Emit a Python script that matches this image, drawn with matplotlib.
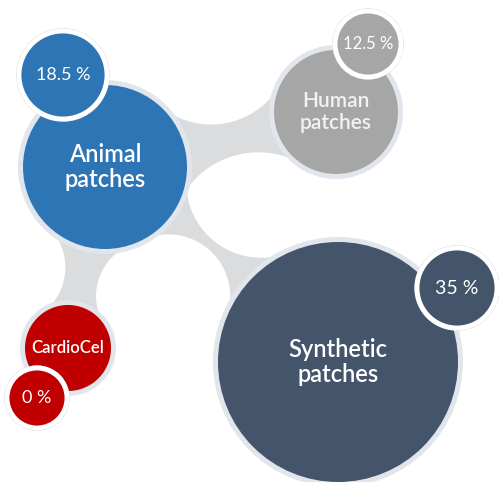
import numpy as np
import matplotlib.pyplot as plt
from matplotlib.patches import Circle, Polygon

plt.rcParams['font.family'] = ['Lato', 'DejaVu Sans']

# data
categories = ['Animal\npatches', 'Human\npatches', 'Synthetic\npatches', 'CardioCel']
shares = [18.5, 12.5, 35, 0]

# layout (pixel coordinates, y down)
centers = [(105, 167), (336, 112), (338, 362), (68, 348)]
radii = [82, 62, 120, 43]
badge_centers = [(63, 75), (368, 44), (457, 288), (37, 398)]
badge_radii = [44, 33, 40, 30]
colors = ['#2e75b6', '#a6a6a6', '#44546a', '#c00000']
label_sizes = [17, 15, 17, 12]
badge_sizes = [13, 12, 14, 13]
label_colors = ['white', '#f2f2f2', 'white', 'white']
# links: (from, to, carve radius side +1, carve radius side -1)
links = [(0, 1, 88, 80), (0, 2, 62, 75), (0, 3, 58, 55)]

LINK_COLOR = '#dadcde'
HALO_COLOR = '#e1e6ec'


def link_polygon(c1, r1, c2, r2, Ra, Rb):
    c1 = np.array(c1, float)
    c2 = np.array(c2, float)
    d = np.linalg.norm(c2 - c1)
    u = (c2 - c1) / d
    n = np.array([-u[1], u[0]])
    pts = []
    for side, R in [(1, Ra), (-1, Rb)]:
        a, b = r1 + R, r2 + R
        x = (a ** 2 - b ** 2 + d ** 2) / (2 * d)
        h = np.sqrt(max(a ** 2 - x ** 2, 0))
        cc = c1 + x * u + side * h * n
        t1 = c1 + r1 * (cc - c1) / a
        t2 = c2 + r2 * (cc - c2) / b
        a1 = np.arctan2(*(t1 - cc)[::-1])
        a2 = np.arctan2(*(t2 - cc)[::-1])
        da = (a2 - a1 + np.pi) % (2 * np.pi) - np.pi
        ang = a1 + np.linspace(0, da, 40)
        arc = np.column_stack([cc[0] + R * np.cos(ang), cc[1] + R * np.sin(ang)])
        if side == -1:
            arc = arc[::-1]
        pts.append(arc)
    return np.vstack([pts[0], pts[1]])


fig = plt.figure(figsize=(4.99, 4.82), dpi=100)
ax = fig.add_axes([0, 0, 1, 1])
ax.set_xlim(0, 499)
ax.set_ylim(482, 0)
ax.set_aspect('equal')
ax.axis('off')

for i, j, Ra, Rb in links:
    poly = link_polygon(centers[i], radii[i], centers[j], radii[j], Ra, Rb)
    ax.add_patch(Polygon(poly, closed=True, facecolor=LINK_COLOR, edgecolor='none', zorder=1))

for k in range(len(categories)):
    ax.add_patch(Circle(centers[k], radii[k] + 5, facecolor=HALO_COLOR, edgecolor='none', zorder=2))
    ax.add_patch(Circle(centers[k], radii[k], facecolor=colors[k], edgecolor='none', zorder=3))
    ax.text(centers[k][0], centers[k][1], categories[k], color=label_colors[k],
            fontsize=label_sizes[k], fontweight='semibold', ha='center', va='center',
            linespacing=1.15, zorder=6)

    ax.add_patch(Circle(badge_centers[k], badge_radii[k] + 2, facecolor='none', edgecolor='#d0d0d0',
                        linewidth=1, zorder=4))
    ax.add_patch(Circle(badge_centers[k], badge_radii[k], facecolor=colors[k], edgecolor='white',
                        linewidth=3.5, zorder=5))
    ax.text(badge_centers[k][0], badge_centers[k][1], f'{shares[k]:g} %', color='white',
            fontsize=badge_sizes[k], ha='center', va='center', zorder=6)

fig.savefig('out.png', dpi=100)
